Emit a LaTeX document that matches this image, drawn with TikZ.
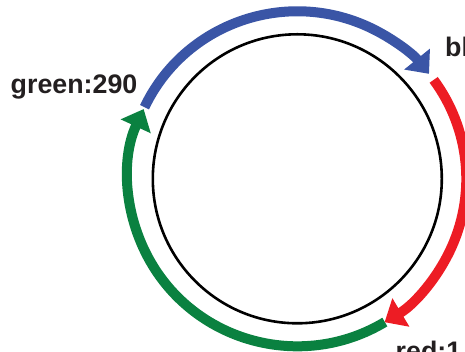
\documentclass[tikz,border=0pt]{standalone}
\usepackage{fontspec}
\setmainfont{Liberation Sans}
\usetikzlibrary{arrows.meta}
\definecolor{ringblue}{HTML}{3A55A6}
\definecolor{ringred}{HTML}{ED1C24}
\definecolor{ringgreen}{HTML}{0A8140}
\definecolor{labelgray}{HTML}{231F20}
\tikzset{
  ringarc/.style={line width=10pt, -{Triangle[width=32pt,length=19pt]}},
  ringlabel/.style={inner sep=0pt, anchor=base west, text=labelgray,
    font=\fontsize{26.8}{30}\selectfont\bfseries},
}
\newcommand{\rx}{169}
\newcommand{\ry}{167.5}
\begin{document}
\begin{tikzpicture}[x=1pt,y=1pt]
  \useasboundingbox (0,0) rectangle (465,352);
  \coordinate (c) at (297.3,173.2);
  % inner ring
  \draw[line width=2.6pt, black] (c) circle[radius=144.5];
  % coloured cycle of arrows
  \draw[ringarc, ringgreen] ([shift={(-58.8:\rx pt and \ry pt)}]c)
    arc[start angle=-58.8, end angle=-204.6, x radius=\rx, y radius=\ry];
  \draw[ringarc, ringblue] ([shift={(154.7:\rx pt and \ry pt)}]c)
    arc[start angle=154.7, end angle=38.8, x radius=\rx, y radius=\ry];
  \draw[ringarc, ringred] ([shift={(36.2:\rx pt and \ry pt)}]c)
    arc[start angle=36.2, end angle=-58.9, x radius=\rx, y radius=\ry];
  % labels
  \node[ringlabel] (lgreen) at (10.5,258) {green:290};
  \node[ringlabel] (lblue) at (445,295) {blue};
  \node[ringlabel] (lred) at (395.5,-9) {red:1};
\end{tikzpicture}
\end{document}
